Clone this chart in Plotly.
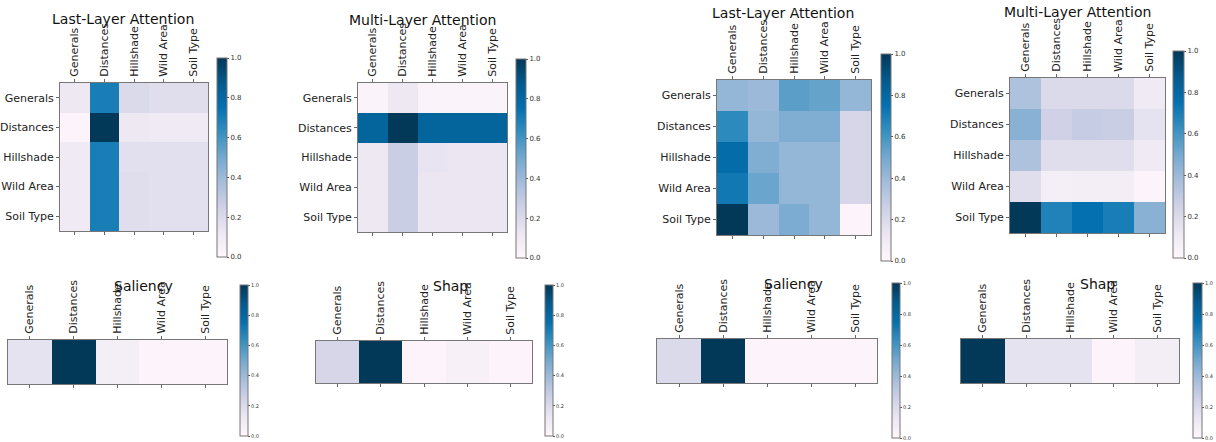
import plotly.graph_objects as go

features = ["Generals", "Distances", "Hillshade", "Wild Area", "Soil Type"]
colorbar_ticks = [0.0, 0.2, 0.4, 0.6, 0.8, 1.0]

left_last_layer = [
    [0.12, 0.70, 0.20, 0.18, 0.18],
    [0.02, 1.00, 0.12, 0.10, 0.10],
    [0.10, 0.70, 0.17, 0.17, 0.17],
    [0.10, 0.70, 0.18, 0.17, 0.17],
    [0.10, 0.70, 0.18, 0.17, 0.17],
]
left_multi_layer = [
    [0.03, 0.12, 0.03, 0.03, 0.03],
    [0.82, 1.00, 0.82, 0.82, 0.82],
    [0.12, 0.27, 0.14, 0.13, 0.13],
    [0.12, 0.27, 0.13, 0.13, 0.13],
    [0.12, 0.27, 0.13, 0.13, 0.13],
]
right_last_layer = [
    [0.42, 0.40, 0.55, 0.53, 0.42],
    [0.65, 0.42, 0.47, 0.47, 0.22],
    [0.77, 0.47, 0.42, 0.42, 0.22],
    [0.72, 0.52, 0.42, 0.42, 0.22],
    [1.00, 0.40, 0.48, 0.42, 0.02],
]
right_multi_layer = [
    [0.35, 0.20, 0.20, 0.20, 0.10],
    [0.45, 0.25, 0.28, 0.27, 0.15],
    [0.35, 0.18, 0.18, 0.18, 0.10],
    [0.18, 0.07, 0.08, 0.08, 0.02],
    [1.00, 0.68, 0.75, 0.70, 0.45],
]
left_saliency = [0.15, 1.00, 0.07, 0.02, 0.02]
left_shap = [0.22, 1.00, 0.02, 0.05, 0.02]
right_saliency = [0.20, 1.00, 0.02, 0.02, 0.02]
right_shap = [1.00, 0.15, 0.15, 0.02, 0.08]

titles = ["Last-Layer Attention", "Multi-Layer Attention", "Last-Layer Attention", "Multi-Layer Attention",
          "Saliency", "Shap", "Saliency", "Shap"]

PUBU = [
    [0.0, "rgb(255,247,251)"], [0.125, "rgb(236,231,242)"], [0.25, "rgb(208,209,230)"],
    [0.375, "rgb(166,189,219)"], [0.5, "rgb(116,169,207)"], [0.625, "rgb(54,144,192)"],
    [0.75, "rgb(5,112,176)"], [0.875, "rgb(4,90,141)"], [1.0, "rgb(2,56,88)"],
]

W, H = 1216, 442
def px(x):
    return x / W
def py(y):
    return 1 - y / H

# (heatmap x0,x1,y0,y1), (colorbar x0,x1,y0,y1), (title x,y), cbar font size
panels = [
    ((60, 208, 83, 231), (217, 227, 58, 257), (123, 19), 7),
    ((358, 507, 83, 232), (516, 526, 59, 258), (422, 20), 7),
    ((717, 871, 80, 235), (881, 891, 54, 261), (783, 13), 7),
    ((1010, 1165, 78, 233), (1173, 1184, 51, 258), (1077, 12), 7),
    ((8, 227, 340, 384), (240, 248, 285, 436), (143, 286), 5),
    ((316, 532, 341, 383), (545, 553, 285, 436), (450, 286), 5),
    ((657, 877, 339, 383), (892, 900, 283, 438), (793, 284), 5),
    ((961, 1179, 339, 383), (1193, 1202, 283, 438), (1097, 284), 5),
]
matrices = [left_last_layer, left_multi_layer, right_last_layer, right_multi_layer,
            [left_saliency], [left_shap], [right_saliency], [right_shap]]

fig = go.Figure()
FONT = "DejaVu Sans"
layout = {}
annotations = []
for i, (z, (hm, cb, tt, cbfs)) in enumerate(zip(matrices, panels)):
    n = i + 1
    xa = "x" if n == 1 else f"x{n}"
    ya = "y" if n == 1 else f"y{n}"
    single = len(z) == 1
    yvals = [""] if single else features
    fig.add_trace(go.Heatmap(
        z=z, x=features, y=yvals, xaxis=xa, yaxis=ya,
        colorscale=PUBU, zmin=0, zmax=1,
        hoverinfo="skip",
        colorbar=dict(
            x=px(cb[0]), xanchor="left", xref="paper",
            y=py(cb[2]), yanchor="top", yref="paper",
            len=(cb[3] - cb[2]) / H, lenmode="fraction",
            thickness=cb[1] - cb[0], thicknessmode="pixels",
            outlinecolor="#777", outlinewidth=1,
            tickvals=colorbar_ticks, ticktext=[f"{t:.1f}" for t in colorbar_ticks],
            ticks="outside", ticklen=2, tickcolor="#555",
            tickfont=dict(size=cbfs, color="#333", family=FONT),
            xpad=0, ypad=0,
        ),
    ))
    xkey = "xaxis" if n == 1 else f"xaxis{n}"
    ykey = "yaxis" if n == 1 else f"yaxis{n}"
    layout[xkey] = dict(
        domain=[px(hm[0]), px(hm[1])], anchor=ya, side="top",
        tickangle=-90, tickfont=dict(size=11, color="#222", family=FONT),
        ticks="outside", ticklen=3, tickcolor="#666",
        showline=True, linecolor="#777", linewidth=1, mirror="ticks",
        showgrid=False, zeroline=False, fixedrange=True, automargin=False,
    )
    layout[ykey] = dict(
        domain=[py(hm[3]), py(hm[2])], anchor=xa,
        autorange="reversed",
        tickfont=dict(size=11, color="#222", family=FONT),
        ticks="" if single else "outside", ticklen=3, tickcolor="#666",
        showticklabels=not single,
        showline=True, linecolor="#777", linewidth=1, mirror=True,
        showgrid=False, zeroline=False, fixedrange=True, automargin=False,
    )
    annotations.append(dict(
        text=titles[i], x=px(tt[0]), y=py(tt[1]), xref="paper", yref="paper",
        xanchor="center", yanchor="middle", showarrow=False,
        font=dict(size=14, color="#111", family=FONT),
    ))

fig.update_layout(
    width=W, height=H,
    margin=dict(l=0, r=0, t=0, b=0, autoexpand=False),
    paper_bgcolor="white", plot_bgcolor="white",
    showlegend=False,
    annotations=annotations,
    **layout,
)
fig.write_html(
    "out.html",
    config={"displayModeBar": False},
    post_script="document.body.style.margin='0';document.body.style.overflow='hidden';",
)
